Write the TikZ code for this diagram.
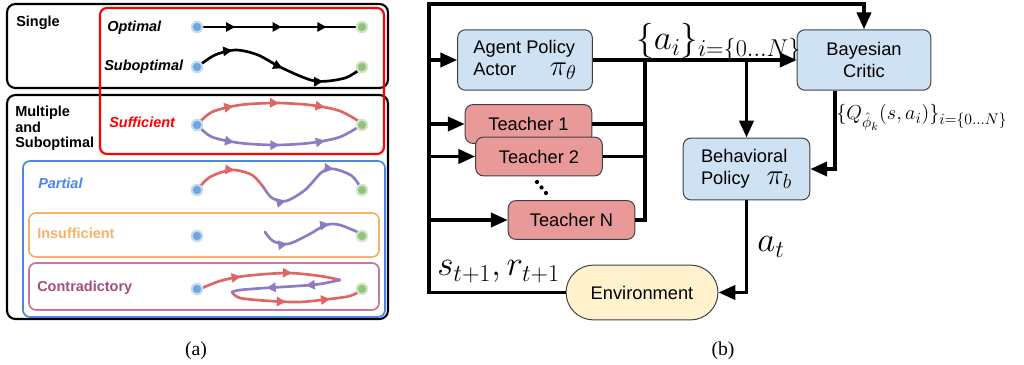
\documentclass[tikz,border=0pt]{standalone}
\usepackage[no-math]{fontspec}
\setsansfont{Liberation Sans}
\newfontfamily\capfont{Liberation Serif}
\usetikzlibrary{arrows.meta,decorations.markings,shapes.misc}

\definecolor{boxblue}{HTML}{CFE2F3}
\definecolor{boxred}{HTML}{EA9999}
\definecolor{boxyellow}{HTML}{FFF2CC}
\definecolor{pathred}{HTML}{E06666}
\definecolor{pathpurple}{HTML}{8E7CC3}
\definecolor{dotblue}{HTML}{6FA8DC}
\definecolor{dotgreen}{HTML}{93C47D}
\definecolor{partblue}{HTML}{4A86E8}
\definecolor{insufforange}{HTML}{F6B26B}
\definecolor{contraframe}{HTML}{C27BA0}
\definecolor{contratext}{HTML}{A64D79}

\tikzset{
    flowtip/.tip={Triangle[length=6.5pt,width=6.5pt]},
    arrows1/.style={postaction=decorate, decoration={markings,
        mark=at position #1 with {\arrow{flowtip}}}},
    arrows2/.style 2 args={postaction=decorate, decoration={markings,
        mark=at position #1 with {\arrow{flowtip}},
        mark=at position #2 with {\arrow{flowtip}}}},
    arrows3/.style n args={3}{postaction=decorate, decoration={markings,
        mark=at position #1 with {\arrow{flowtip}},
        mark=at position #2 with {\arrow{flowtip}},
        mark=at position #3 with {\arrow{flowtip}}}},
}

\begin{document}
\begin{tikzpicture}[x=0.025cm, y=-0.025cm,
    outer/.style={draw=black, line width=1.5pt, rounded corners=6pt},
    frame/.style={line width=1.2pt, rounded corners=5pt},
    tag/.style={font=\sffamily\bfseries\fontsize{10.3}{11}\selectfont, anchor=base west, inner sep=0pt},
    route/.style={line width=1.9pt, line cap=round},
    block/.style={draw=black!75, line width=0.7pt, inner sep=0pt, align=center,
        font=\sffamily\fontsize{13}{15.5}\selectfont},
    policy/.style={block, fill=boxblue, rounded corners=5.5pt},
    teacher/.style={block, fill=boxred, rounded corners=5.5pt, minimum width=90pt, minimum height=27.6pt},
    wire/.style={line width=2.6pt},
    flow/.style={line width=2.6pt, -{Triangle[length=12pt,width=10pt]}},
    mathlbl/.style={inner sep=0pt, anchor=base west, font=\fontsize{23}{26}\selectfont},
]
    \useasboundingbox (0,0) rectangle (1024,365);

    % (a) kinds of demonstrations
    \draw[outer] (7,4) rectangle (388,88);
    \draw[outer] (7,95) rectangle (388,319);
    \draw[frame, draw=red, line width=1.5pt] (100,8) rectangle (384,154);
    \draw[frame, draw=partblue] (23,161) rectangle (385,317);
    \draw[frame, draw=insufforange] (29,213) rectangle (379,257);
    \draw[frame, draw=contraframe] (29,263) rectangle (379,310);

    \node[tag] (single) at (16,27) {Single};
    \node[tag, anchor=north west, align=left] (multi) at (15,106) {Multiple\\and\\Suboptimal};
    \node[tag, font=\sffamily\bfseries\itshape\fontsize{10.3}{11}\selectfont] (optimal) at (107,32) {Optimal};
    \node[tag, font=\sffamily\bfseries\itshape\fontsize{10.3}{11}\selectfont] (subopt) at (104,71) {Suboptimal};
    \node[tag, text=red, font=\sffamily\bfseries\itshape\fontsize{10.3}{11}\selectfont] (suff) at (109,128) {Sufficient};
    \node[tag, text=partblue, font=\sffamily\bfseries\itshape\fontsize{10.3}{11}\selectfont] (partial) at (38,189) {Partial};
    \node[tag, text=insufforange] (insuff) at (37,239) {Insufficient};
    \node[tag, text=contratext] (contra) at (37,292) {Contradictory};

    \draw[route, black, arrows3={0.23}{0.51}{0.78}] (197,27) -- (363,27);
    \draw[route, black, arrows3={0.22}{0.52}{0.76}] plot[smooth] coordinates {(197,67) (215,55) (236,50) (258,55) (282,68) (315,81) (345,78) (363,67)};

    \draw[route, pathred, arrows3={0.24}{0.5}{0.76}] plot[smooth] coordinates {(197,125) (212,112) (240,105) (275,103) (310,105) (340,111) (363,124)};
    \draw[route, pathpurple, arrows3={0.24}{0.5}{0.76}] plot[smooth] coordinates {(197,125) (212,137) (240,143) (275,145) (310,143) (340,137) (363,124)};

    \draw[route, pathred, arrows1={0.55}] plot[smooth] coordinates {(197,190) (210,177) (232,170) (252,175) (264,188)};
    \draw[route, pathpurple, arrows2={0.22}{0.7}] plot[smooth] coordinates {(264,188) (272,198) (286,201) (305,190) (322,172) (334,169) (352,176) (362,190)};

    \draw[route, pathpurple, arrows2={0.25}{0.68}] plot[smooth] coordinates {(265,232) (273,241) (288,244) (308,235) (326,225) (340,225) (362,234)};

    \draw[route, pathred, arrows2={0.3}{0.66}] plot[smooth] coordinates {(200,289) (220,281) (245,276) (287,273) (320,276) (340,280)};
    \draw[route, pathred, arrows2={0.42}{0.75}] plot[smooth] coordinates {(232,292) (240,298) (270,301) (300,302) (330,299) (350,296) (362,290)};
    \draw[route, pathpurple, arrows2={0.32}{0.68}] plot[smooth] coordinates {(340,280) (320,284) (298,286) (265,288) (240,290) (232,292)};

    \foreach \y in {27,67,125,190,236,289} {
        \fill[dotblue!40] (197,\y) circle[radius=4.5pt];
        \fill[dotblue] (197,\y) circle[radius=3pt];
        \fill[dotgreen!40] (362,\y) circle[radius=4.5pt];
        \fill[dotgreen] (362,\y) circle[radius=3pt];
    }

    \node[font=\capfont\fontsize{14}{16}\selectfont] (capa) at (196,351) {(a)};

    % (b) actor, teachers and critic
    \node[policy, minimum width=95.7pt, minimum height=43pt, align=left] (agent) at (525,60)
        {Agent Policy\\Actor\hspace{24pt}{\fontsize{21}{21}\selectfont$\pi_\theta$}};
    \node[policy, minimum width=95pt, minimum height=43pt] (critic) at (864,60) {Bayesian\\Critic};
    \node[policy, minimum width=90pt, minimum height=44pt, align=left] (behav) at (746.5,169)
        {Behavioral\\Policy\hspace{12pt}{\fontsize{21}{21}\selectfont$\pi_b$}};
    \node[teacher] (teacher1) at (528.5,124) {Teacher 1};
    \node[teacher] (teacher2) at (539,156.5) {Teacher 2};
    \node[teacher] (teacherN) at (571.5,220) {Teacher N};
    \foreach \p in {(537,182),(541.5,187.5),(546,193)}
        \fill \p circle[radius=1.5pt];
    \node[block, rounded rectangle, fill=boxyellow, minimum width=108pt, minimum height=39pt] (env) at (642,292.5) {Environment};

    \coordinate (corner) at (429,4);
    \coordinate (join) at (645,60);

    \draw[flow] (env.west) -| (corner) -| (critic.north);
    \draw[flow] (corner |- agent.west) -- (agent.west);
    \draw[flow] (corner |- teacher1.west) -- (teacher1.west);
    \draw[flow] (corner |- teacher2.west) -- (teacher2.west);
    \draw[flow] (corner |- teacherN.west) -- (teacherN.west);

    \draw[flow] (agent.east) -- (critic.west);
    \draw[wire] (teacher1.east) -- (join |- teacher1.east);
    \draw[wire] (teacher2.east) -- (join |- teacher2.east);
    \draw[wire] (teacherN.east) -| (join);
    \draw[flow] (behav.north |- agent.east) -- (behav.north);
    \draw[flow] ([xshift=-20.5pt]critic.south) |- (behav.east);
    \draw[flow] (behav.south) |- (env.east);

    \node[mathlbl] (alabel) at (636,50) {$\{a_i\}_{i=\{0\ldots N\}}$};
    \node[mathlbl, font=\fontsize{15.3}{18}\selectfont] (qlabel) at (836,120) {$\{Q_{\hat{\phi}_k}(s,a_i)\}_{i=\{0\ldots N\}}$};
    \node[mathlbl] (atlabel) at (757,252) {$a_t$};
    \node[mathlbl] (srlabel) at (437,276) {$s_{t+1},r_{t+1}$};

    \node[font=\capfont\fontsize{14}{16}\selectfont] (capb) at (723,351) {(b)};
\end{tikzpicture}
\end{document}
